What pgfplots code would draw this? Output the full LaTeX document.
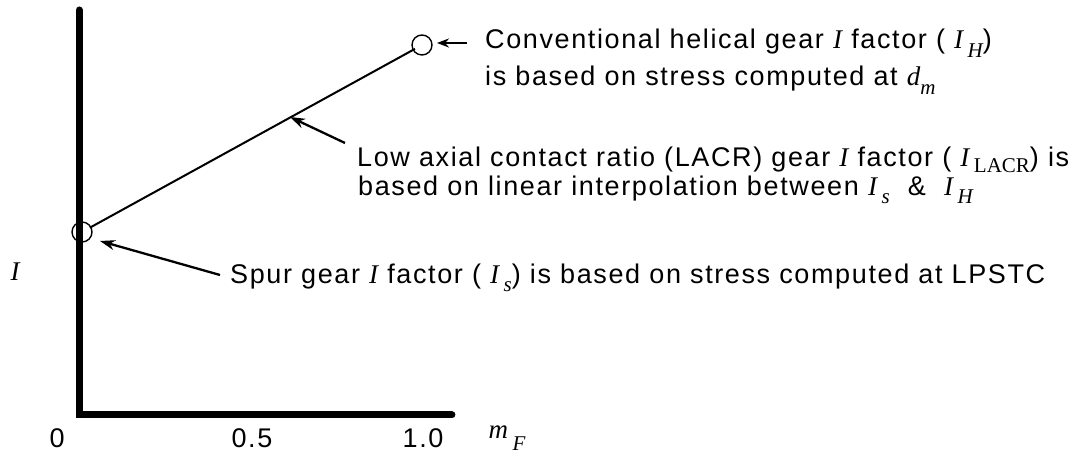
\documentclass[border=0pt]{standalone}
\usepackage{fontspec}
\setmainfont{Liberation Sans}[LetterSpace=6]
\newfontfamily\serif{Liberation Serif}
\usepackage{pgfplots}
\pgfplotsset{compat=1.18}
\usetikzlibrary{arrows.meta}

% I factor at the two ends of the face contact ratio range
\pgfplotstableread{
mF   I
0    183
1    370
}\ifactor

\newcommand{\lbl}{\fontsize{27}{32}\selectfont}
% italic serif symbols with lowered subscripts
\newcommand{\sym}[1]{{\serif\itshape #1}}
\newcommand{\sub}[2][-0.32em]{\raisebox{#1}{\fontsize{21}{21}\selectfont\serif #2}}

\begin{document}
\begin{tikzpicture}
\begin{axis}[
    scale only axis,
    width=1090pt, height=462pt,
    xmin=-0.2412, xmax=2.9647,
    ymin=-47, ymax=415,
    axis line style={draw=none},
    ticks=none,
    clip=false,
]
% thick axes
\addplot[black, line width=7pt, line join=miter, line cap=round]
    coordinates {(-0.0088,405) (-0.0088,0) (1.088,0)};

% linear interpolation between the spur and helical values
\addplot[black, line width=2pt, shorten <=9pt, shorten >=8pt]
    table[x=mF, y=I]{\ifactor};
\addplot[only marks, mark=o, mark size=10pt, black, mark options={line width=1.4pt}]
    table[x=mF, y=I]{\ifactor};

% callout arrows
\draw[black, line width=2.3pt, -{Stealth[length=12pt, width=9pt]}]
    (axis cs:1.1324,372) -- (axis cs:1.0441,372);
\draw[black, line width=2.3pt, -{Stealth[length=15pt, width=10pt]}]
    (axis cs:0.7735,272) -- (axis cs:0.6118,298);
\draw[black, line width=2.3pt, -{Stealth[length=15pt, width=10pt]}]
    (axis cs:0.4059,140) -- (axis cs:0.0529,174);

% annotations
\node[anchor=west, inner sep=0pt] at (axis cs:1.1853,372)
    {\lbl Conventional helical gear \sym{I} factor ( \sym{I}\,\sub{\itshape H})};
\node[anchor=west, inner sep=0pt] at (axis cs:1.1853,335)
    {\lbl is based on stress computed at \sym{d}\sub{\itshape m}};
\node[anchor=west, inner sep=0pt] at (axis cs:0.8088,255)
    {\lbl Low axial contact ratio (LACR) gear \sym{I} factor ( \sym{I}\,\sub[-0.22em]{LACR}) is};
\node[anchor=west, inner sep=0pt] at (axis cs:0.8118,225)
    {\lbl based on linear interpolation between \sym{I}\,\sub{\itshape s} \ \& \ \sym{I}\,\sub{\itshape H}};
\node[anchor=west, inner sep=0pt] at (axis cs:0.4353,137)
    {\lbl Spur gear \sym{I} factor ( \sym{I}\,\sub{\itshape s}) is based on stress computed at LPSTC};

% axis labels and tick labels
\node at (axis cs:-0.197,143) {\lbl \sym{I}};
\node at (axis cs:-0.0735,-23) {\lbl 0};
\node at (axis cs:0.5,-23) {\lbl 0.5};
\node at (axis cs:1.003,-23) {\lbl 1.0};
\node[anchor=west, inner sep=0pt] at (axis cs:1.195,-23) {\lbl \sym{m}\,\sub[-0.45em]{\itshape F}};
\end{axis}
\end{tikzpicture}
\end{document}
